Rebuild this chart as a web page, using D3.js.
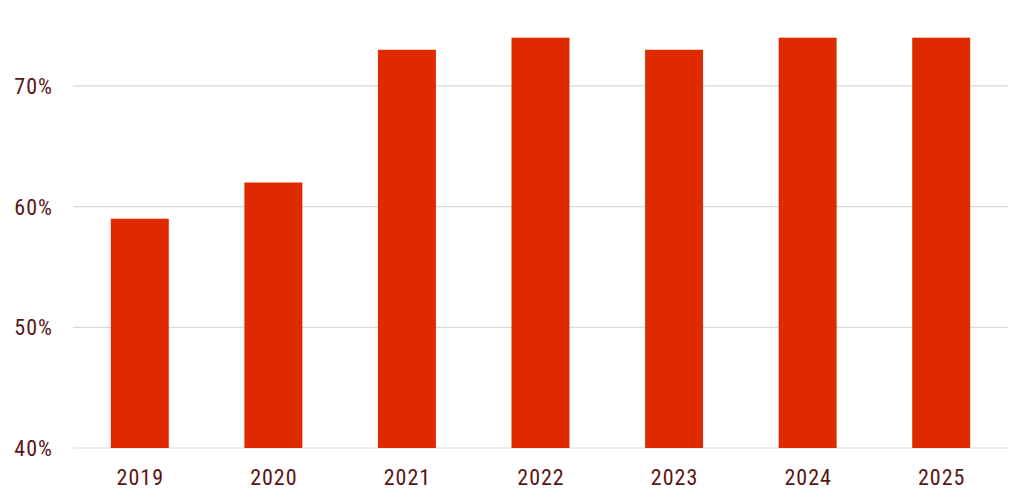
<!DOCTYPE html>
<html><head><meta charset="utf-8">
<script src="https://cdn.jsdelivr.net/npm/d3@7"></script>
<style>
html,body{margin:0;padding:0;background:#fff;}
text{font-family:"Liberation Sans Narrow","Roboto Condensed","DejaVu Sans Condensed",sans-serif;}
</style></head>
<body>
<svg id="c" width="1032" height="504"></svg>
<script>
const categories = ["2019","2020","2021","2022","2023","2024","2025"];
const values = [59, 62, 73, 74, 73, 74, 74];
const yTicks = [40, 50, 60, 70];

(function(){
const svg = d3.select("#c");
const mLeft = 73, mRight = 1008, mBottom = 448, mTop = 37.7;
const x = d3.scaleBand().domain(categories).range([mLeft, mRight]).padding(0);
const y = d3.scaleLinear().domain([40, 74]).range([mBottom, mTop]);
const barW = x.bandwidth() * 0.434;

const textColor = "#5a1414";

svg.append("g").selectAll("line").data(yTicks).join("line")
  .attr("x1", mLeft).attr("x2", mRight)
  .attr("y1", d => y(d)).attr("y2", d => y(d))
  .attr("stroke", "#d9d9d9").attr("stroke-width", 1.2);

svg.append("g").selectAll("rect").data(values).join("rect")
  .attr("x", (d, i) => x(categories[i]) + x.bandwidth() / 2 - barW / 2)
  .attr("width", barW)
  .attr("y", d => y(d))
  .attr("height", d => y(40) - y(d))
  .attr("fill", "#df2a00");

svg.append("g").selectAll("text").data(yTicks).join("text")
  .attr("x", 53).attr("y", d => y(d) + 8)
  .attr("text-anchor", "end")
  .attr("letter-spacing", 1)
  .attr("font-size", 22).attr("fill", textColor)
  .text(d => d + "%");

svg.append("g").selectAll("text").data(categories).join("text")
  .attr("x", d => x(d) + x.bandwidth() / 2 + 0.5).attr("y", 485)
  .attr("text-anchor", "middle")
  .attr("letter-spacing", 1)
  .attr("font-size", 22).attr("fill", textColor)
  .text(d => d);
})();
</script>
</body></html>
